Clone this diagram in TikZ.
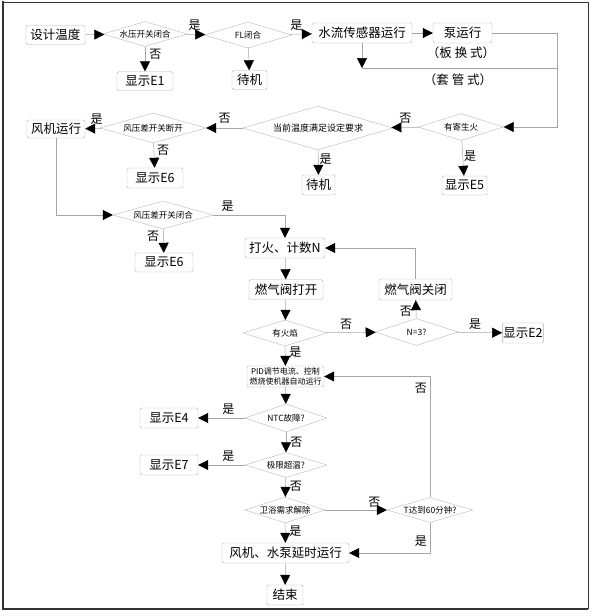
\documentclass[tikz,border=0pt]{standalone}
\usepackage{fontspec}
\newfontfamily\cjk{Noto Sans CJK SC}
\usetikzlibrary{arrows.meta,shapes.geometric}
\begin{document}
\begin{tikzpicture}[x=1pt,y=-1pt,>={Triangle[length=10pt,width=10pt,color=black]},
  line/.style={draw=gray!70,line width=.5pt},
  box/.style={draw=gray!60,rounded corners=1.5pt,fill=white,inner sep=1pt,
    font=\cjk\fontsize{12.5}{14}\selectfont,minimum height=19pt},
  dia/.style={draw=gray!55,shape=diamond,aspect=3.4,inner sep=-2pt,fill=white,
    font=\cjk\fontsize{8.5}{9}\selectfont},
  lbl/.style={font=\cjk\fontsize{12}{13}\selectfont,inner sep=1pt}]
\useasboundingbox (0,0) rectangle (592,616);
\draw[black!80,line width=1pt](3,2)--(588,2)--(588,609);
\draw[black!80,line width=2pt](3,1)--(3,609)--(588,609);

% first row
\node[box,minimum width=59pt] (sjwd) at (55.5,35) {设计温度};
\node[dia,minimum width=84pt,minimum height=25pt] (sykg) at (145,34) {水压开关闭合};
\node[dia,minimum width=88pt,minimum height=26pt] (fl) at (248,35) {FL闭合};
\node[box,minimum width=56pt] (e1) at (145,81) {显示E1};
\node[box,minimum width=35pt] (dj1) at (249.5,80) {待机};
\node[box,minimum width=100pt,minimum height=20pt] (slcg) at (362,33) {水流传感器运行};
\node[box,minimum width=59pt,minimum height=20pt] (byx) at (462.5,33) {泵运行};
\node[font=\cjk\fontsize{12.5}{14}\selectfont] (bhs) at (461,53) {（板 换 式）};
\node[font=\cjk\fontsize{12.5}{14}\selectfont] (tgs) at (458,80) {（套 管 式）};
\coordinate (rt) at (557,33);
\coordinate (bt) at (362,68);

% second row
\node[dia,minimum width=85pt,minimum height=27pt] (jsh) at (461,127) {有寄生火};
\node[dia,minimum width=150pt,minimum height=44pt,font=\cjk\fontsize{9}{10}\selectfont] (dqwd) at (318,128) {当前温度满足设定要求};
\node[box,minimum width=33pt,minimum height=20pt] (dj2) at (318.5,185) {待机};
\node[box,minimum width=45pt] (e5) at (464.5,185.5) {显示E5};
\node[dia,minimum width=106pt,minimum height=30pt] (fydk) at (153,128) {风压差开关断开};
\node[box,minimum width=58pt,minimum height=18pt] (fjyx) at (56,129) {风机运行};
\node[box,minimum width=56pt,minimum height=20pt] (e6a) at (155,178) {显示E6};

% third row
\node[dia,minimum width=100pt,minimum height=28pt] (fybh) at (163,215) {风压差开关闭合};
\node[box,minimum width=58pt] (e6b) at (164,262.5) {显示E6};
\node[box,minimum width=80pt,minimum height=20pt] (dh) at (285,248) {打火、计数N};
\node[box,minimum width=74pt,minimum height=20pt] (rqk) at (286,289.5) {燃气阀打开};
\node[box,minimum width=73pt,minimum height=21pt] (rqg) at (415.5,289.5) {燃气阀关闭};
\node[dia,minimum width=84pt,minimum height=26pt] (yhy) at (285,333) {有火焰};
\node[dia,minimum width=83pt,minimum height=27pt] (n3) at (416.5,332) {N=3?};
\node[box,minimum width=40pt,minimum height=20pt] (e2) at (523,333) {显示E2};

% lower part
\node[box,minimum width=77pt,minimum height=21pt,align=center,
  font=\cjk\fontsize{8}{10}\selectfont] (pid) at (285.5,376.5) {PID调节电流、控制\\燃烧使机器自动运行};
\node[dia,minimum width=82pt,minimum height=28pt] (ntc) at (286,418) {NTC故障?};
\node[box,minimum width=58pt,minimum height=20pt] (e4) at (169,418) {显示E4};
\node[dia,minimum width=82pt,minimum height=25pt] (jxcw) at (286,465) {极限超温?};
\node[box,minimum width=58pt,minimum height=20pt] (e7) at (169,465) {显示E7};
\node[dia,minimum width=80pt,minimum height=26pt] (wy) at (285,510) {卫浴需求解除};
\node[dia,minimum width=86pt,minimum height=25pt] (t60) at (430,510) {T达到60分钟?};
\node[box,minimum width=127pt,minimum height=20pt] (fjsb) at (285.5,553) {风机、水泵延时运行};
\node[box,minimum width=36pt,minimum height=20pt] (js) at (285,595) {结束};

% connectors
\draw[line,->](sjwd)--(sykg);
\draw[line,->](sykg)--(fl)node[lbl,pos=.45,above=3pt]{是};
\draw[line,->](sykg)--(e1)node[lbl,pos=.3,right=3pt]{否};
\draw[line,->](fl)--(slcg)node[lbl,pos=.3,above=2pt]{是};
\draw[line,->](fl)--(dj1);
\draw[line,->](slcg)--(byx);
\draw[line,->](slcg)--(bt);
\draw[line](bt)--(bt-|rt);
\draw[line,->](byx)--(rt)|-(jsh);
\draw[line,->](jsh)--(dqwd)node[lbl,midway,above=3pt]{否};
\draw[line,->](jsh)--(e5)node[lbl,pos=.45,right]{是};
\draw[line,->](dqwd)--(fydk)node[lbl,midway,above=3pt]{否};
\draw[line,->](dqwd)--(dj2)node[lbl,pos=.35,right]{是};
\draw[line,->](fydk)--(fjyx)node[lbl,pos=.3,above=3pt]{是};
\draw[line,->](fydk)--(e6a)node[lbl,pos=.3,right=2pt]{否};
\draw[line,->](fjyx)|-(fybh);
\draw[line,->](fybh)-|(dh)node[lbl,pos=.1,above=2pt]{是};
\draw[line,->](fybh)--(e6b)node[lbl,pos=.3,left=3pt]{否};
\draw[line,->](dh)--(rqk);
\draw[line,->](rqk)--(yhy);
\draw[line,->](yhy)--(n3)node[lbl,pos=.4,above=2pt]{否};
\draw[line,->](n3)--(rqg)node[lbl,pos=.4,left=3pt]{否};
\draw[line,->](rqg)|-(dh);
\draw[line,->](n3)--(e2)node[lbl,pos=.4,above=2pt]{是};
\draw[line,->](yhy)--(pid)node[lbl,pos=.3,right=3pt]{是};
\draw[line,->](pid)--(ntc);
\draw[line,->](t60)|-(pid)node[lbl,pos=.45,left=2pt]{否};
\draw[line,->](ntc)--(e4)node[lbl,pos=.35,above=2pt]{是};
\draw[line,->](ntc)--(jxcw)node[lbl,pos=.5,right=3pt]{否};
\draw[line,->](jxcw)--(e7)node[lbl,pos=.35,above=2pt]{是};
\draw[line,->](jxcw)--(wy)node[lbl,pos=.45,right=3pt]{否};
\draw[line,->](wy)--(t60)node[lbl,pos=.8,above=1pt]{否};
\draw[line,->](wy)--(fjsb)node[lbl,pos=.4,right=3pt]{是};
\draw[line,->](t60)|-(fjsb)node[lbl,pos=.3,left=2pt]{是};
\draw[line,->](fjsb)--(js);
\end{tikzpicture}
\end{document}
